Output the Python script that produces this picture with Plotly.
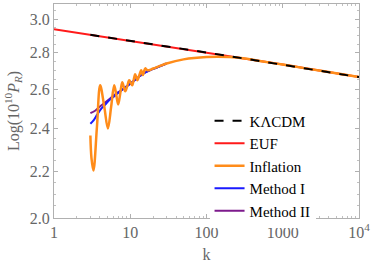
import plotly.graph_objects as go

# ---- data ----
k_line = [1, 3, 10, 30, 100, 300, 1000, 3000, 10000]
euf_vals = [2.938, 2.905, 2.870, 2.837, 2.802, 2.769, 2.734, 2.701, 2.665]

k_lcdm = [3, 10, 30, 100, 300, 1000, 3000, 10000]
lcdm_vals = [2.905, 2.870, 2.837, 2.802, 2.769, 2.734, 2.701, 2.665]

k_inf = [3.0, 3.1, 3.29, 3.66, 4.03, 4.56, 5.09, 5.62, 6.16, 6.55, 6.95, 7.4,
         7.85, 8.22, 8.6, 9.15, 9.7, 10.15, 10.6, 11.1, 11.6, 12.0, 12.4, 13.15,
         13.9, 14.25, 14.6, 15.15, 15.7, 16.5, 17.5, 20, 30, 50, 100, 200, 300,
         500, 1000, 2000, 5000, 10000]
inf_vals = [2.366, 2.26, 2.203, 2.41, 2.621, 2.51, 2.40, 2.51, 2.621, 2.571,
            2.521, 2.579, 2.637, 2.613, 2.589, 2.618, 2.648, 2.634, 2.621, 2.651,
            2.681, 2.664, 2.648, 2.675, 2.703, 2.69, 2.676, 2.694, 2.713, 2.705,
            2.703, 2.712, 2.74, 2.763, 2.776, 2.776, 2.770, 2.754, 2.734, 2.713,
            2.686, 2.665]

k_m1 = [3, 3.3, 3.7, 4.2, 4.7, 5.2, 6, 7, 8, 10, 12, 15, 20, 30]
m1_vals = [2.423, 2.44, 2.47, 2.50, 2.52, 2.54, 2.56, 2.582, 2.60, 2.63, 2.655,
           2.685, 2.71, 2.74]

k_m2 = [3, 3.5, 4, 5, 6, 7, 8, 10, 12, 15, 20, 30]
m2_vals = [2.476, 2.49, 2.51, 2.54, 2.565, 2.585, 2.60, 2.63, 2.655, 2.685, 2.71, 2.74]

x_tickvals = [1, 10, 100, 1000, 10000]
x_ticktext = ["1", "10", "100", "1000", "10<sup>4</sup>"]
y_tickvals = [2.0, 2.2, 2.4, 2.6, 2.8, 3.0]
y_ticktext = ["2.0", "2.2", "2.4", "2.6", "2.8", "3.0"]

FONT = "Liberation Serif"
GRAY = "#666666"

fig = go.Figure()
fig.add_trace(go.Scatter(x=k_line, y=euf_vals, mode="lines", name="EUF",
                         line=dict(color="#ff1a1a", width=2), legendrank=2))
fig.add_trace(go.Scatter(x=k_m2, y=m2_vals, mode="lines", name="Method II",
                         line=dict(color="#7d1a8c", width=2, shape="spline"), legendrank=5))
fig.add_trace(go.Scatter(x=k_m1, y=m1_vals, mode="lines", name="Method I",
                         line=dict(color="#1a1aff", width=2, shape="spline"), legendrank=4))
fig.add_trace(go.Scatter(x=k_inf, y=inf_vals, mode="lines", name="Inflation",
                         line=dict(color="#ff8c1a", width=2.5, shape="spline", smoothing=1),
                         legendrank=3))
fig.add_trace(go.Scatter(x=k_lcdm, y=lcdm_vals, mode="lines", name="K\u039bCDM",
                         line=dict(color="black", width=2, dash="dash"), legendrank=1))

minor_x = [m * 10 ** d for d in range(4) for m in range(2, 10)]
minor_y = [2.05, 2.1, 2.15, 2.25, 2.3, 2.35, 2.45, 2.5, 2.55, 2.65, 2.7, 2.75,
           2.85, 2.9, 2.95, 3.05]

axis_common = dict(showline=True, linecolor="#b0b0b0", linewidth=1, mirror="ticks",
                   ticks="inside", ticklen=4, tickcolor="#b0b0b0", showgrid=False,
                   zeroline=False, tickfont=dict(family=FONT, size=16, color=GRAY))

fig.update_xaxes(type="log", range=[0, 4], tickvals=x_tickvals, ticktext=x_ticktext,
                 minor=dict(tickvals=minor_x, ticks="inside", ticklen=2,
                            tickcolor="#c0c0c0", showgrid=False),
                 title=dict(text="k", font=dict(family=FONT, size=16, color=GRAY),
                            standoff=8),
                 **axis_common)
fig.update_yaxes(type="log", range=[0.30103, 0.4904], tickvals=y_tickvals,
                 ticktext=y_ticktext,
                 minor=dict(tickvals=minor_y, ticks="inside", ticklen=2,
                            tickcolor="#c0c0c0", showgrid=False),
                 title=dict(text="Log(10<sup>10</sup><i>P</i><sub><i>R</i></sub>)",
                            font=dict(family=FONT, size=16, color=GRAY), standoff=6),
                 **axis_common)

fig.update_layout(
    width=374, height=271,
    margin=dict(l=54, r=15, t=4, b=53),
    font=dict(family=FONT, size=15, color="black"),
    plot_bgcolor="white", paper_bgcolor="white",
    showlegend=True,
    legend=dict(x=0.51, y=0.53, xanchor="left", yanchor="top",
                bgcolor="white", borderwidth=0,
                font=dict(family=FONT, size=15, color="black"),
                tracegroupgap=0, itemwidth=30),
)

fig.write_html("out.html",
               config={"displayModeBar": False},
               post_script="document.body.style.margin='0';document.body.style.padding='0';")
